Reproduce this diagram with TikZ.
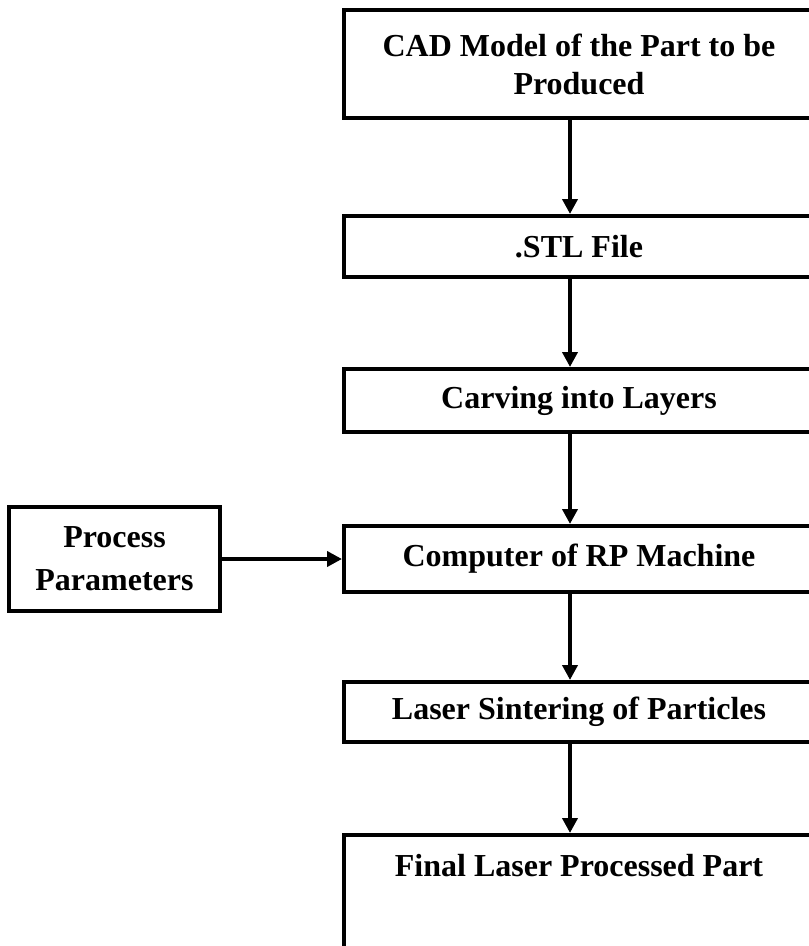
\documentclass[tikz,border=0pt]{standalone}
\usepackage{fontspec}
\setmainfont{Liberation Serif}
\usetikzlibrary{arrows.meta}

\tikzset{
  stage/.style={draw, line width=4pt, rectangle, minimum width=470pt,
    align=center, inner sep=0pt, font=\bfseries\fontsize{32}{38}\selectfont},
  flow/.style={line width=4pt, -{Triangle[width=15pt,length=15pt]}},
}

\begin{document}
\begin{tikzpicture}[x=1pt,y=1pt]
  \useasboundingbox (0,0) rectangle (809,-946);
  \clip (0,0) rectangle (809,-946);
  \fill[white] (0,0) rectangle (809,-946);

  % vertical line along which the main chain of arrows runs
  \coordinate (spine) at (570,0);

  % main process chain
  \node[stage, minimum height=108pt] (cad) at (579,-64)
    {CAD Model of the Part to be\\Produced};
  \node[stage, minimum height=61pt] (stl) at (579,-246.5) {.STL File};
  \node[stage, minimum height=63pt] (slice) at (579,-400.5) {Carving into Layers};
  \node[stage, minimum height=66pt] (comp) at (579,-559) {Computer of RP Machine};
  \node[stage, minimum height=60pt] (sinter) at (579,-712) {Laser Sintering of Particles};
  \node[stage, minimum height=150pt, anchor=north] (final) at (579,-833) {};
  \node[font=\bfseries\fontsize{32}{38}\selectfont, anchor=base, inner sep=0pt]
    (finaltext) at ([yshift=-43pt]final.north) {Final Laser Processed Part};

  % side input
  \node[stage, minimum width=211pt, minimum height=104pt,
        font=\bfseries\fontsize{32}{43}\selectfont] (param) at (114.5,-559)
    {Process\\Parameters};

  % connectors
  \draw[flow] (cad.south -| spine) -- (stl.north -| spine);
  \draw[flow] (stl.south -| spine) -- (slice.north -| spine);
  \draw[flow] (slice.south -| spine) -- (comp.north -| spine);
  \draw[flow] (comp.south -| spine) -- (sinter.north -| spine);
  \draw[flow] (sinter.south -| spine) -- (final.north -| spine);
  \draw[flow] (param.east) -- (param.east -| comp.west);
\end{tikzpicture}
\end{document}
